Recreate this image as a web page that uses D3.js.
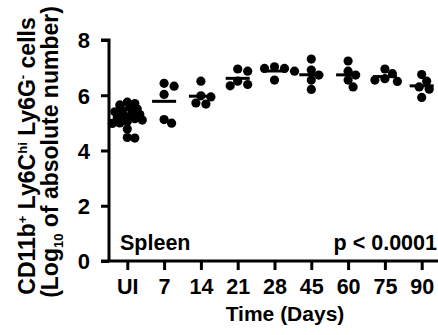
<!DOCTYPE html>
<html lang="en">
<head>
<meta charset="UTF-8">
<script src="https://d3js.org/d3.v7.min.js"></script>
<style>
  body { margin: 0; background: #fff; }
  text { font-family: "Liberation Sans", Arial, sans-serif; font-weight: bold; fill: #000; }
</style>
</head>
<body>
<div id="chart"></div>
<script>
// data (log10 of absolute number)
const days = ["UI", "7", "14", "21", "28", "45", "60", "75", "90"];
const valsUI = [5.75, 5.7, 5.65, 5.55, 5.5, 5.45, 5.4, 5.35, 5.3, 5.25, 5.2, 5.15, 5.1, 5.05, 5.0, 4.98, 4.78, 4.45, 4.47];
const vals7 = [6.33, 6.43, 6.03, 4.99, 5.12];
const vals14 = [6.51, 5.94, 5.98, 5.68, 5.72];
const vals21 = [6.95, 6.87, 6.51, 6.34, 6.39];
const vals28 = [6.97, 7.03, 6.97, 6.87, 6.55];
const vals45 = [7.31, 6.91, 6.55, 6.21, 6.73];
const vals60 = [7.24, 6.87, 6.55, 6.30, 6.73];
const vals75 = [6.95, 6.78, 6.6, 6.5, 6.55];
const vals90 = [6.75, 6.51, 6.22, 5.92, 6.3];
const yTicks = [0, 2, 4, 6, 8];

const groups = [valsUI, vals7, vals14, vals21, vals28, vals45, vals60, vals75, vals90];

const width = 438, height = 335;
const svg = d3.select("#chart").append("svg")
    .attr("width", width)
    .attr("height", height);

const x = d3.scalePoint().domain(days).range([127.3, 421.7]);
const y = d3.scaleLinear().domain([0, 8]).range([261, 40]);

// axes
const yAxis = svg.append("g")
    .attr("transform", "translate(109,0)")
    .call(d3.axisLeft(y).tickValues(yTicks).tickSize(8).tickPadding(11).tickFormat(d3.format("d")));
yAxis.select(".domain").attr("stroke-width", 3).attr("d", `M0,${y(8) - 1.5}V${y(0)}M-8,${y(8)}H0`);
yAxis.selectAll(".tick line").attr("stroke-width", 3);
yAxis.selectAll("text").style("font-size", "22px").attr("dy", "0.36em");

const xAxis = svg.append("g")
    .attr("transform", `translate(0,${y(0)})`)
    .call(d3.axisBottom(x).tickSize(9).tickPadding(9));
xAxis.select(".domain").attr("stroke-width", 3).attr("d", `M101,0H438`);
xAxis.selectAll(".tick line").attr("stroke-width", 3);
xAxis.selectAll("text").style("font-size", "21.5px").attr("dy", "0.71em");

// simple dodge so dots sit side by side like the original scatter
function dodge(vals, r) {
  const pts = vals.map(v => ({ v, cy: y(v), dx: 0 })).sort((a, b) => a.cy - b.cy);
  const placed = [];
  const step = 2.5;
  const gap = vals.length > 10 ? r * 1.3 : r * 1.8;
  pts.forEach(p => {
    for (let k = 0; k < 40; k++) {
      const off = (k % 2 ? 1 : -1) * Math.ceil(k / 2) * step;
      const ok = placed.every(q => Math.hypot(q.dx - off, q.cy - p.cy) >= gap);
      if (ok) { p.dx = off; break; }
    }
    placed.push(p);
  });
  return pts;
}

const r = 4.6;
groups.forEach((vals, i) => {
  const cx = x(days[i]);
  const g = svg.append("g");
  g.selectAll("circle")
    .data(dodge(vals, r))
    .join("circle")
    .attr("cx", d => cx + d.dx)
    .attr("cy", d => d.cy)
    .attr("r", r)
    .attr("fill", "#000");
  const m = d3.mean(vals);
  g.append("line")
    .attr("x1", cx - 12).attr("x2", cx + 12)
    .attr("y1", y(m)).attr("y2", y(m))
    .attr("stroke", "#000").attr("stroke-width", 3);
});

// annotations
svg.append("text").attr("x", 120).attr("y", 250).style("font-size", "21.5px").text("Spleen");
svg.append("text").attr("x", 437).attr("y", 250).attr("text-anchor", "end").style("font-size", "21.5px").text("p < 0.0001");

svg.append("text").attr("x", 285).attr("y", 321).attr("text-anchor", "middle").style("font-size", "21px").text("Time (Days)");

// y label, two lines
const yl1 = svg.append("text")
    .attr("transform", "translate(35,156) rotate(-90)")
    .attr("text-anchor", "middle")
    .style("font-size", "23px");
yl1.append("tspan").text("CD11b");
yl1.append("tspan").attr("dy", -8).style("font-size", "13px").text("+");
yl1.append("tspan").attr("dy", 8).text(" Ly6C");
yl1.append("tspan").attr("dy", -8).style("font-size", "13px").text("hi");
yl1.append("tspan").attr("dy", 8).text(" Ly6G");
yl1.append("tspan").attr("dy", -8).style("font-size", "13px").text("-");
yl1.append("tspan").attr("dy", 8).text(" cells");

const yl2 = svg.append("text")
    .attr("transform", "translate(58,152) rotate(-90)")
    .attr("text-anchor", "middle")
    .style("font-size", "23px");
yl2.append("tspan").text("(Log");
yl2.append("tspan").attr("dy", 5).style("font-size", "13px").text("10");
yl2.append("tspan").attr("dy", -5).text(" of absolute number)");
</script>
</body>
</html>
